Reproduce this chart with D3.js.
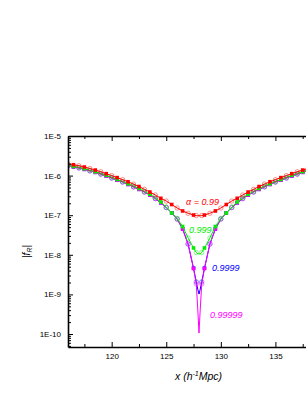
<!DOCTYPE html>
<html>
<head>
<meta charset="utf-8">
<script src="https://cdn.jsdelivr.net/npm/d3@7"></script>
<style>
  body { margin: 0; background: #fff; }
  svg { display: block; font-family: "Liberation Sans", Arial, sans-serif; }
  .axis path, .axis line { stroke: #000; }
  .axis text { font-size: 8px; fill: #000; }
</style>
</head>
<body>
<div id="chart"></div>
<script>
// x positions (h^-1 Mpc), shared by all series
const xValues = [116, 116.5, 117, 117.5, 118, 118.5, 119, 119.5, 120, 120.5, 121, 121.5,
  122, 122.5, 123, 123.5, 124, 124.5, 125, 125.5, 126, 126.5, 127, 127.5,
  127.75, 127.9, 128, 128.1, 128.25,
  128.5, 129, 129.5, 130, 130.5, 131, 131.5, 132, 132.5, 133, 133.5, 134, 134.5,
  135, 135.5, 136, 136.5, 137, 137.5, 138];

const fr099 = [1.99e-6, 1.88e-6, 1.78e-6, 1.65e-6, 1.51e-6, 1.38e-6, 1.25e-6, 1.12e-6, 1.0e-6, 8.9e-7, 7.9e-7, 7.0e-7,
  6.1e-7, 5.3e-7, 4.5e-7, 3.85e-7, 3.24e-7, 2.67e-7, 2.28e-7, 1.86e-7, 1.52e-7, 1.28e-7, 1.12e-7, 1.01e-7,
  9.8e-8, 9.7e-8, 9.7e-8, 9.7e-8, 9.8e-8,
  1.01e-7, 1.12e-7, 1.28e-7, 1.52e-7, 1.86e-7, 2.28e-7, 2.67e-7, 3.24e-7, 3.85e-7, 4.5e-7, 5.3e-7, 6.1e-7, 7.0e-7,
  7.9e-7, 8.9e-7, 1.0e-6, 1.12e-6, 1.25e-6, 1.38e-6, 1.51e-6];

const fr0999 = [1.80e-6, 1.71e-6, 1.61e-6, 1.49e-6, 1.37e-6, 1.25e-6, 1.13e-6, 1.02e-6, 9.1e-7, 8.0e-7, 7.1e-7, 6.2e-7,
  5.5e-7, 4.7e-7, 4.0e-7, 3.37e-7, 2.75e-7, 2.16e-7, 1.61e-7, 1.14e-7, 8.3e-8, 5.2e-8, 2.66e-8, 1.49e-8,
  1.14e-8, 1.06e-8, 1.05e-8, 1.06e-8, 1.14e-8,
  1.49e-8, 2.66e-8, 5.2e-8, 8.3e-8, 1.14e-7, 1.61e-7, 2.16e-7, 2.75e-7, 3.37e-7, 4.0e-7, 4.7e-7, 5.5e-7, 6.2e-7,
  7.1e-7, 8.0e-7, 9.1e-7, 1.02e-6, 1.13e-6, 1.25e-6, 1.37e-6];

const fr09999 = [1.75e-6, 1.66e-6, 1.56e-6, 1.44e-6, 1.32e-6, 1.21e-6, 1.09e-6, 9.8e-7, 8.7e-7, 7.7e-7, 6.9e-7, 6.0e-7,
  5.2e-7, 4.5e-7, 3.85e-7, 3.24e-7, 2.62e-7, 2.06e-7, 1.56e-7, 1.15e-7, 8.0e-8, 4.5e-8, 1.87e-8, 4.6e-9,
  2.06e-9, 1.3e-9, 1.02e-9, 1.3e-9, 2.06e-9,
  4.6e-9, 1.87e-8, 4.5e-8, 8.0e-8, 1.15e-7, 1.56e-7, 2.06e-7, 2.62e-7, 3.24e-7, 3.85e-7, 4.5e-7, 5.2e-7, 6.0e-7,
  6.9e-7, 7.7e-7, 8.7e-7, 9.8e-7, 1.09e-6, 1.21e-6, 1.32e-6];

const fr099999 = [1.75e-6, 1.66e-6, 1.56e-6, 1.44e-6, 1.32e-6, 1.21e-6, 1.09e-6, 9.8e-7, 8.7e-7, 7.7e-7, 6.9e-7, 6.0e-7,
  5.2e-7, 4.5e-7, 3.85e-7, 3.24e-7, 2.62e-7, 2.06e-7, 1.56e-7, 1.15e-7, 8.0e-8, 4.5e-8, 1.87e-8, 4.5e-9,
  1.83e-9, 3.6e-10, 1.06e-10, 3.6e-10, 1.83e-9,
  4.5e-9, 1.87e-8, 4.5e-8, 8.0e-8, 1.15e-7, 1.56e-7, 2.06e-7, 2.62e-7, 3.24e-7, 3.85e-7, 4.5e-7, 5.2e-7, 6.0e-7,
  6.9e-7, 7.7e-7, 8.7e-7, 9.8e-7, 1.09e-6, 1.21e-6, 1.32e-6];

const seriesNames = ['\u03b1 = 0.99', '0.999', '0.9999', '0.99999'];
const xTicks = [120, 125, 130, 135, 140];
const xTickLabels = ['120', '125', '130', '135', ''];
const xMinorTicks = [117.5, 122.5, 127.5, 132.5, 137.5];
const yTicks = [1e-10, 1e-9, 1e-8, 1e-7, 1e-6, 1e-5];
const yTickLabels = ['1E-10', '1E-9', '1E-8', '1E-7', '1E-6', '1E-5'];

const width = 306, height = 396;
// plot box runs past the right edge of the window, like the original
const margin = {left: 68, top: 136, right: 330, bottom: 347};

const chart = {};

chart.create = function (el) {
  const svg = d3.select(el).append('svg')
    .attr('width', width)
    .attr('height', height);

  svg.append('defs').append('clipPath')
    .attr('id', 'plot-clip')
    .append('rect')
    .attr('x', margin.left)
    .attr('y', margin.top)
    .attr('width', margin.right - margin.left)
    .attr('height', margin.bottom - margin.top);

  const scales = this._scale();
  this._drawSeries(svg, scales);
  this._drawAxes(svg, scales);
  this._drawLabels(svg, scales);
};

chart._scale = function () {
  let x = d3.scaleLinear()
    .domain([116, 140])
    .range([margin.left, margin.right]);

  let y = d3.scaleLog()
    .domain([4.7e-11, 1e-5])
    .range([margin.bottom, margin.top]);

  return { x, y };
};

chart._drawSeries = function (svg, scale) {
  const series = [
    { values: fr09999, color: '#0000ff' },
    { values: fr099999, color: '#ff00ff' },
    { values: fr0999, color: '#00ee00' },
    { values: fr099, color: '#ff0000' }
  ];

  const line = d3.line()
    .x(d => scale.x(d.x))
    .y(d => scale.y(d.v));

  const g = svg.append('g').attr('clip-path', 'url(#plot-clip)');

  series.forEach(s => {
    const pts = xValues.map((x, i) => ({ x, v: s.values[i] }));

    g.append('path')
      .datum(pts)
      .attr('fill', 'none')
      .attr('stroke', s.color)
      .attr('stroke-width', 1)
      .attr('d', line);

    // open circles on whole numbers and quarter points near the dip
    const circles = pts.filter(p => (p.x % 1 === 0 && p.x !== 128) || p.x === 127.75 || p.x === 128.25);
    g.selectAll(null)
      .data(circles)
      .enter().append('circle')
      .attr('cx', p => scale.x(p.x))
      .attr('cy', p => scale.y(p.v))
      .attr('r', 2.2)
      .attr('fill', 'none')
      .attr('stroke', s.color)
      .attr('stroke-opacity', 0.55)
      .attr('stroke-width', 0.8);

    // filled squares on the half points
    const squares = pts.filter(p => p.x % 1 === 0.5);
    g.selectAll(null)
      .data(squares)
      .enter().append('rect')
      .attr('x', p => scale.x(p.x) - 1.8)
      .attr('y', p => scale.y(p.v) - 1.8)
      .attr('width', 3.6)
      .attr('height', 3.6)
      .attr('fill', s.color);
  });
};

chart._drawAxes = function (svg, scale) {
  const minorY = [];
  for (let e = -11; e < -5; e++) {
    for (let k = 2; k < 10; k++) {
      const v = k * Math.pow(10, e);
      if (v >= 4.7e-11 && v <= 1e-5) minorY.push(v);
    }
  }

  // bottom
  svg.append('g')
    .attr('class', 'axis')
    .attr('transform', `translate(0, ${margin.bottom})`)
    .call(d3.axisBottom(scale.x).tickValues(xTicks).tickSizeInner(-5).tickSizeOuter(0).tickPadding(6)
      .tickFormat((d, i) => xTickLabels[i]))
    .call(g => g.select('.domain').attr('stroke-width', 1.6));

  svg.append('g')
    .attr('class', 'axis')
    .attr('transform', `translate(0, ${margin.bottom})`)
    .call(d3.axisBottom(scale.x).tickValues(xMinorTicks).tickSize(-3).tickFormat(''))
    .call(g => g.select('.domain').remove());

  // top
  svg.append('g')
    .attr('class', 'axis')
    .attr('transform', `translate(0, ${margin.top})`)
    .call(d3.axisTop(scale.x).tickValues(xTicks).tickSizeInner(-5).tickSizeOuter(0).tickFormat(''))
    .call(g => g.select('.domain').attr('stroke-width', 1.6));

  svg.append('g')
    .attr('class', 'axis')
    .attr('transform', `translate(0, ${margin.top})`)
    .call(d3.axisTop(scale.x).tickValues(xMinorTicks).tickSize(-3).tickFormat(''))
    .call(g => g.select('.domain').remove());

  // left
  svg.append('g')
    .attr('class', 'axis')
    .attr('transform', `translate(${margin.left}, 0)`)
    .call(d3.axisLeft(scale.y).tickValues(yTicks).tickSizeInner(-5).tickSizeOuter(0).tickPadding(7)
      .tickFormat((d, i) => yTickLabels[i]))
    .call(g => g.select('.domain').attr('stroke-width', 1.6));

  svg.append('g')
    .attr('class', 'axis')
    .attr('transform', `translate(${margin.left}, 0)`)
    .call(d3.axisLeft(scale.y).tickValues(minorY).tickSize(-3).tickFormat(''))
    .call(g => g.select('.domain').remove());

  // right (sits outside the window)
  svg.append('g')
    .attr('class', 'axis')
    .attr('transform', `translate(${margin.right}, 0)`)
    .call(d3.axisRight(scale.y).tickValues(yTicks).tickSizeInner(-5).tickSizeOuter(0).tickFormat(''));
};

chart._drawLabels = function (svg, scale) {
  const labels = [
    { text: seriesNames[0], color: '#ff0000', x: 186, y: 205 },
    { text: seriesNames[1], color: '#00ee00', x: 189, y: 233 },
    { text: seriesNames[2], color: '#0000ff', x: 212, y: 271 },
    { text: seriesNames[3], color: '#ff00ff', x: 210, y: 318 }
  ];

  svg.selectAll('.series-label')
    .data(labels)
    .enter().append('text')
    .attr('class', 'series-label')
    .attr('x', d => d.x)
    .attr('y', d => d.y)
    .attr('fill', d => d.color)
    .attr('font-size', 9)
    .attr('font-style', 'italic')
    .text(d => d.text);

  // x axis title
  const xt = svg.append('text')
    .attr('x', 175)
    .attr('y', 380)
    .attr('font-size', 10.5)
    .attr('font-style', 'italic')
    .attr('fill', '#000');
  xt.append('tspan').text('x (h');
  xt.append('tspan').attr('font-size', 7).attr('dy', -4).text('-1');
  xt.append('tspan').attr('dy', 4).text('Mpc)');

  // y axis title
  const yt = svg.append('text')
    .attr('transform', 'translate(30, 258) rotate(-90)')
    .attr('font-size', 10)
    .attr('font-style', 'italic')
    .attr('fill', '#000');
  yt.append('tspan').text('|f');
  yt.append('tspan').attr('font-size', 7).attr('dy', 2).text('R');
  yt.append('tspan').attr('dy', -2).text('|');
};

chart.create(document.getElementById('chart'));
</script>
</body>
</html>
